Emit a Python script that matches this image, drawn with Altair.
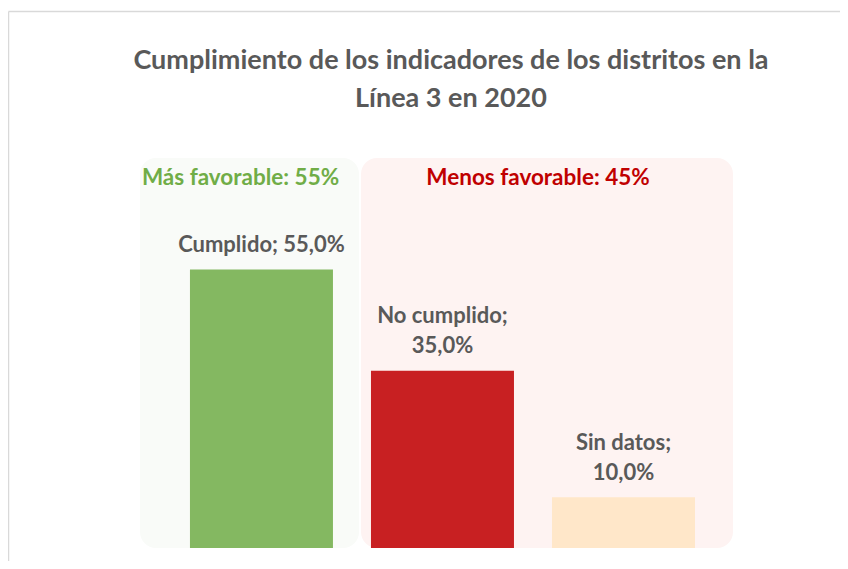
import altair as alt
import pandas as pd

# ---- data ----
categories = ["Cumplido", "No cumplido", "Sin datos"]
values = [0.55, 0.35, 0.10]
positions = [0, 1, 2]
bar_colors = ["#84B861", "#C82022", "#FFE7C9"]
label_line1 = ["", "No cumplido;", "Sin datos;"]
label_line2 = ["Cumplido; 55,0%", "35,0%", "10,0%"]

group_names = ["Más favorable: 55%", "Menos favorable: 45%"]
group_start = [-0.671, 0.55]
group_end = [0.539, 2.605]
group_fill = ["#F9FBF8", "#FEF3F2"]
group_text_color = ["#70AD47", "#C00000"]

title_text = ["Cumplimiento de los indicadores de los distritos en la\nLínea 3 en 2020"]

FONT = "Lato"
GRAY = "#595959"

bars_df = pd.DataFrame({
    "categoria": categories,
    "valor": values,
    "pos": positions,
    "color": bar_colors,
    "linea1": label_line1,
    "linea2": label_line2,
})
groups_df = pd.DataFrame({
    "grupo": group_names,
    "inicio": group_start,
    "fin": group_end,
    "fill": group_fill,
    "tcolor": group_text_color,
})
groups_df["centro"] = (groups_df["inicio"] + groups_df["fin"]) / 2
title_df = pd.DataFrame({"titulo": title_text})

xscale = alt.Scale(domain=[-0.671, 2.605], nice=False, zero=False, padding=0)
yscale = alt.Scale(domain=[0, 0.77], nice=False)

bg = alt.Chart(groups_df).mark_rect(cornerRadius=16).encode(
    x=alt.X("inicio:Q", scale=xscale, axis=None),
    x2="fin:Q",
    y=alt.value(0),
    y2=alt.value(390),
    fill=alt.Fill("fill:N", scale=None),
)

group_text = alt.Chart(groups_df).mark_text(
    font=FONT, fontSize=22.5, fontWeight="bold", baseline="middle", dx=-9
).encode(
    x=alt.X("centro:Q", scale=xscale, axis=None),
    y=alt.value(20),
    text="grupo:N",
    color=alt.Color("tcolor:N", scale=None),
)

bars = alt.Chart(bars_df).mark_bar(width=143).encode(
    x=alt.X("pos:Q", scale=xscale, axis=None),
    y=alt.Y("valor:Q", scale=yscale, axis=None),
    color=alt.Color("color:N", scale=None),
)

labels_bottom = alt.Chart(bars_df).mark_text(
    font=FONT, fontSize=22, fontWeight="bold", color=GRAY,
    baseline="alphabetic", dy=-17.5
).encode(
    x=alt.X("pos:Q", scale=xscale, axis=None),
    y=alt.Y("valor:Q", scale=yscale, axis=None),
    text="linea2:N",
)
labels_top = alt.Chart(bars_df).mark_text(
    font=FONT, fontSize=22, fontWeight="bold", color=GRAY,
    baseline="alphabetic", dy=-47.5
).encode(
    x=alt.X("pos:Q", scale=xscale, axis=None),
    y=alt.Y("valor:Q", scale=yscale, axis=None),
    text="linea1:N",
)

title = alt.Chart(title_df).mark_text(
    font=FONT, fontSize=27, fontWeight="bold", color=GRAY,
    baseline="alphabetic", align="center", lineHeight=38, lineBreak="\n"
).encode(
    x=alt.value(311),
    y=alt.value(-89),
    text="titulo:N",
)

border_top = alt.Chart(title_df).mark_rule(color="#D9D9D9", strokeWidth=1.5).encode(
    x=alt.value(-131.5), x2=alt.value(720), y=alt.value(-146.5)
)
border_left = alt.Chart(title_df).mark_rule(color="#D9D9D9", strokeWidth=1.5).encode(
    x=alt.value(-131.5), y=alt.value(-146.5), y2=alt.value(403)
)

chart = alt.layer(
    border_top, border_left, title, bg, group_text, bars, labels_bottom, labels_top
).properties(
    width=593,
    height=390,
    background="white",
    autosize=alt.AutoSizeParams(type="none"),
    padding={"left": 132, "top": 150, "right": 107, "bottom": 13},
).configure_view(stroke=None)

chart.save("out.html", embed_options={"renderer": "svg", "actions": False})
